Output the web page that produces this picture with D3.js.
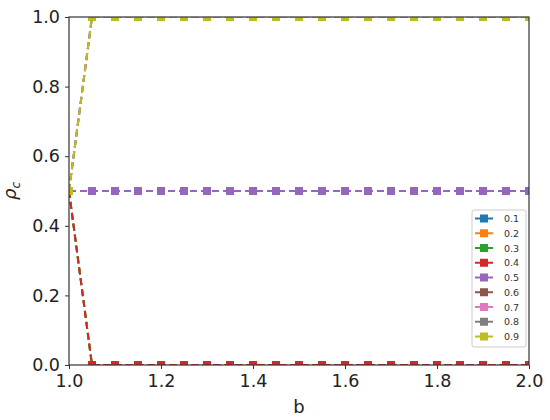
<!DOCTYPE html>
<html><head><meta charset="utf-8">
<script src="https://cdn.jsdelivr.net/npm/d3@7"></script>
<style>body{margin:0;background:#fff}</style>
</head><body><svg id="c" width="550" height="420"></svg>
<script>
const bValues = [1.0,1.05,1.1,1.15,1.2,1.25,1.3,1.35,1.4,1.45,1.5,1.55,1.6,1.65,1.7,1.75,1.8,1.85,1.9,1.95,2.0];
const seriesNames = ["0.1","0.2","0.3","0.4","0.5","0.6","0.7","0.8","0.9"];
const lowVals  = [0.5,0,0,0,0,0,0,0,0,0,0,0,0,0,0,0,0,0,0,0,0];
const midVals  = [0.5,0.5,0.5,0.5,0.5,0.5,0.5,0.5,0.5,0.5,0.5,0.5,0.5,0.5,0.5,0.5,0.5,0.5,0.5,0.5,0.5];
const highVals = [0.5,1,1,1,1,1,1,1,1,1,1,1,1,1,1,1,1,1,1,1,1];
const seriesValues = [lowVals,lowVals,lowVals,lowVals,midVals,highVals,highVals,highVals,highVals];
const colors = ["#1f77b4","#ff7f0e","#2ca02c","#d62728","#9467bd","#8c564b","#e377c2","#7f7f7f","#bcbd22"];
const xTicks = [1.0,1.2,1.4,1.6,1.8,2.0];
const yTicks = [0.0,0.2,0.4,0.6,0.8,1.0];

const L=69,R=529,T=17,B=365;
const svg=d3.select("#c");
const x=d3.scaleLinear().domain([1,2]).range([L,R]);
const y=d3.scaleLinear().domain([0,1]).range([B,T]);
svg.append("defs").append("clipPath").attr("id","clip").append("rect")
  .attr("x",L).attr("y",T).attr("width",R-L).attr("height",B-T);

const g=svg.append("g").attr("clip-path","url(#clip)");
const line=d3.line().x((d,i)=>x(bValues[i])).y(d=>y(d));
seriesValues.forEach((vals,k)=>{
  const s=g.append("g");
  s.append("path").attr("d",line(vals)).attr("fill","none")
    .attr("stroke",colors[k]).attr("stroke-width",2).attr("stroke-dasharray","7,4");
  s.selectAll("rect").data(vals).enter().append("rect")
    .attr("x",(d,i)=>x(bValues[i])-4).attr("y",d=>y(d)-4)
    .attr("width",8).attr("height",8).attr("fill",colors[k]);
});

const font="DejaVu Sans, sans-serif";
const xa=svg.append("g").attr("transform",`translate(0,${B})`)
  .call(d3.axisBottom(x).tickValues(xTicks).tickFormat(d3.format(".1f")).tickSizeOuter(0).tickSize(4).tickPadding(6));
const ya=svg.append("g").attr("transform",`translate(${L},0)`)
  .call(d3.axisLeft(y).tickValues(yTicks).tickFormat(d3.format(".1f")).tickSizeOuter(0).tickSize(4).tickPadding(5));
[xa,ya].forEach(a=>{
  a.select(".domain").remove();
  a.selectAll("line").attr("stroke","#333");
  a.selectAll("text").attr("font-family",font).attr("font-size",17.5).attr("fill","#222");
});
svg.append("rect").attr("x",L).attr("y",T).attr("width",R-L).attr("height",B-T)
  .attr("fill","none").attr("stroke","#333").attr("stroke-width",1.2);

svg.append("text").attr("x",(L+R)/2).attr("y",413).attr("text-anchor","middle")
  .attr("font-family",font).attr("font-size",18).attr("fill","#222").text("b");
const yl=svg.append("text").attr("transform","translate(16,191) rotate(-90)").attr("text-anchor","middle")
  .attr("font-family",font).attr("font-size",18).attr("fill","#222");
yl.append("tspan").text("ρ").attr("font-style","italic");
yl.append("tspan").text("c").attr("font-style","italic").attr("font-size",12).attr("dy",4);

const lg=svg.append("g").attr("transform","translate(472,210)");
lg.append("rect").attr("width",54).attr("height",137).attr("rx",2).attr("fill","#fff")
  .attr("fill-opacity",0.85).attr("stroke","#ccc");
seriesNames.forEach((n,k)=>{
  const yy=8.5+k*14.75;
  lg.append("line").attr("x1",3).attr("x2",21).attr("y1",yy).attr("y2",yy).attr("stroke",colors[k]).attr("stroke-width",2);
  lg.append("rect").attr("x",8).attr("y",yy-4).attr("width",8).attr("height",8).attr("fill",colors[k]);
  lg.append("text").attr("x",32).attr("y",yy+3.5).attr("font-family",font).attr("font-size",9.5).attr("fill","#333").text(n);
});
</script></body></html>
